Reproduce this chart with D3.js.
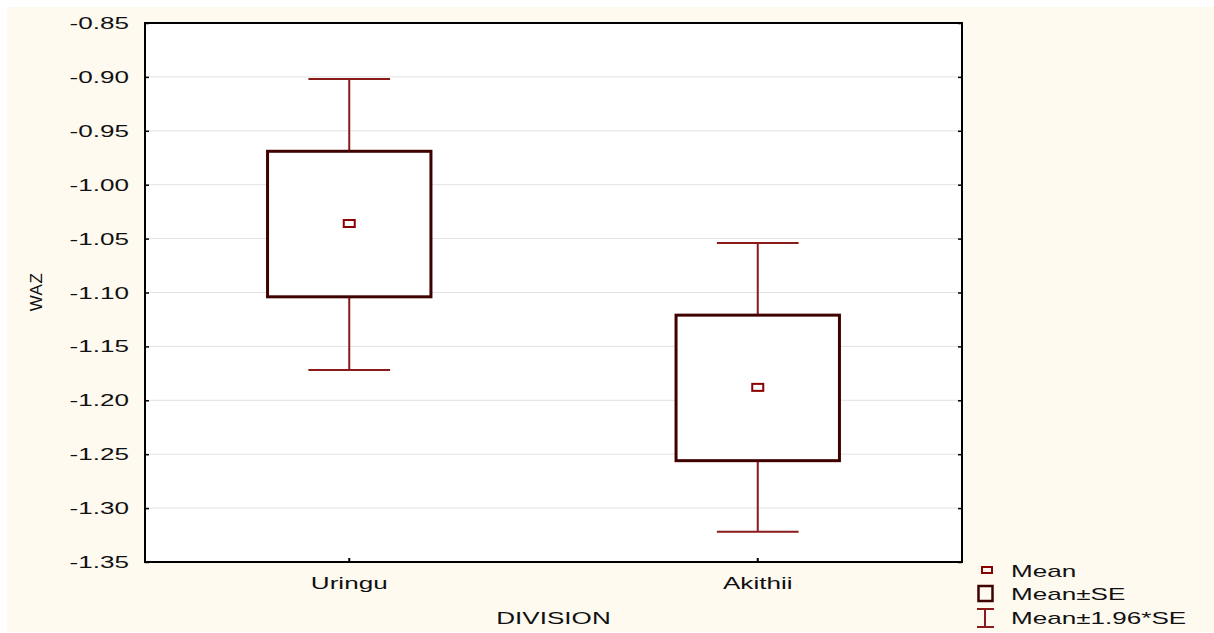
<!DOCTYPE html>
<html>
<head>
<meta charset="utf-8">
<script src="https://cdn.jsdelivr.net/npm/d3@7"></script>
<style>
  html, body { margin: 0; padding: 0; background: #ffffff; }
  svg { display: block; }
  text { font-family: "Liberation Sans", Arial, sans-serif; fill: #111; }
</style>
</head>
<body>
<svg id="chart" width="1214" height="633"></svg>
<script>
// WAZ by division: mean, mean ± SE, mean ± 1.96*SE
const divisions = ["Uringu", "Akithii"];
const means  = [-1.036, -1.188];
const seHigh = [-0.969, -1.121];
const seLow  = [-1.104, -1.256];
const ciHigh = [-0.902, -1.054];
const ciLow  = [-1.172, -1.322];
const yTicks = [-0.85, -0.90, -0.95, -1.00, -1.05, -1.10, -1.15, -1.20, -1.25, -1.30, -1.35];
const legendLabels = ["Mean", "Mean\u00b1SE", "Mean\u00b11.96*SE"];

const svg = d3.select("#chart");
const W = 1214, H = 633;
const plot = { left: 145, right: 962, top: 23, bottom: 562 };
const textScale = 1.63;   // wide horizontal lettering

const boxColor = "#3f0000";
const whiskerColor = "#8b1a1a";
const meanColor = "#8b0000";

// page background
svg.append("rect").attr("x", 7).attr("y", 7).attr("width", W - 7).attr("height", H - 8)
  .attr("fill", "#fefaf0");

const x = d3.scaleBand().domain(divisions).range([plot.left, plot.right]).padding(0);
const y = d3.scaleLinear().domain([-1.35, -0.85]).range([plot.bottom, plot.top]);

// plot area
svg.append("rect")
  .attr("x", plot.left).attr("y", plot.top)
  .attr("width", plot.right - plot.left).attr("height", plot.bottom - plot.top)
  .attr("fill", "#ffffff");

// horizontal grid
svg.append("g").selectAll("line").data(yTicks.slice(1, -1)).join("line")
  .attr("x1", plot.left).attr("x2", plot.right)
  .attr("y1", d => y(d)).attr("y2", d => y(d))
  .attr("stroke", "#e2e2e2").attr("stroke-width", 1);

function wideText(g, xPos, yPos, str, anchor, size) {
  const t = g.append("g").attr("transform", `translate(${xPos},${yPos}) scale(${textScale},1)`);
  t.append("text").attr("text-anchor", anchor).attr("font-size", size).text(str);
  return t;
}

// y axis (left) with inward ticks, mirrored ticks on the right
const yAxis = d3.axisLeft(y).tickValues(yTicks).tickSize(-4).tickFormat("");
const yG = svg.append("g").attr("transform", `translate(${plot.left},0)`).call(yAxis);
yG.select(".domain").remove();
yG.selectAll(".tick line").attr("stroke", "#000").attr("stroke-width", 1.5);

const yAxisR = d3.axisRight(y).tickValues(yTicks).tickSize(-4).tickFormat("");
const yGR = svg.append("g").attr("transform", `translate(${plot.right},0)`).call(yAxisR);
yGR.select(".domain").remove();
yGR.selectAll(".tick line").attr("stroke", "#000").attr("stroke-width", 1.5);

const yLabels = svg.append("g");
yTicks.forEach(v => {
  wideText(yLabels, 129, y(v) + 6, d3.format(".2f")(v).replace("\u2212", "-"), "end", 16);
});

// x axis ticks pointing up
const xAxis = d3.axisBottom(x).tickSize(-4).tickFormat("");
const xG = svg.append("g").attr("transform", `translate(0,${plot.bottom})`).call(xAxis);
xG.select(".domain").remove();
xG.selectAll(".tick line").attr("stroke", "#000").attr("stroke-width", 2);

const xLabels = svg.append("g");
divisions.forEach(d => {
  wideText(xLabels, x(d) + x.bandwidth() / 2, 589, d, "middle", 16);
});

// axis titles
wideText(svg, (plot.left + plot.right) / 2, 624, "DIVISION", "middle", 16);
svg.append("text")
  .attr("transform", `translate(42,292) rotate(-90)`)
  .attr("text-anchor", "middle").attr("font-size", 17).attr("letter-spacing", 0.5)
  .text("WAZ");

// plot frame
svg.append("rect")
  .attr("x", plot.left).attr("y", plot.top)
  .attr("width", plot.right - plot.left).attr("height", plot.bottom - plot.top)
  .attr("fill", "none").attr("stroke", "#000").attr("stroke-width", 2);

// marks
const bw = x.bandwidth();
const boxW = bw * 0.4;
const capW = bw * 0.2;
const marks = svg.append("g");
divisions.forEach((d, i) => {
  const cx = x(d) + bw / 2;
  const g = marks.append("g");
  // whiskers
  g.append("line").attr("x1", cx).attr("x2", cx).attr("y1", y(ciHigh[i])).attr("y2", y(seHigh[i]))
    .attr("stroke", whiskerColor).attr("stroke-width", 2);
  g.append("line").attr("x1", cx).attr("x2", cx).attr("y1", y(seLow[i])).attr("y2", y(ciLow[i]))
    .attr("stroke", whiskerColor).attr("stroke-width", 2);
  [ciHigh[i], ciLow[i]].forEach(v => {
    g.append("line").attr("x1", cx - capW / 2).attr("x2", cx + capW / 2)
      .attr("y1", y(v)).attr("y2", y(v))
      .attr("stroke", whiskerColor).attr("stroke-width", 2);
  });
  // SE box
  g.append("rect")
    .attr("x", cx - boxW / 2).attr("y", y(seHigh[i]))
    .attr("width", boxW).attr("height", y(seLow[i]) - y(seHigh[i]))
    .attr("fill", "#ffffff").attr("stroke", boxColor).attr("stroke-width", 3);
  // mean marker
  g.append("rect")
    .attr("x", cx - 5.5).attr("y", y(means[i]) - 3.5)
    .attr("width", 11).attr("height", 7)
    .attr("fill", "#ffffff").attr("stroke", meanColor).attr("stroke-width", 2);
});

// legend
const lg = svg.append("g");
lg.append("rect").attr("x", 982).attr("y", 567).attr("width", 10).attr("height", 6)
  .attr("fill", "none").attr("stroke", meanColor).attr("stroke-width", 2);
lg.append("rect").attr("x", 978.5).attr("y", 586).attr("width", 14).attr("height", 15)
  .attr("fill", "none").attr("stroke", boxColor).attr("stroke-width", 2.5);
lg.append("line").attr("x1", 985).attr("x2", 985).attr("y1", 609).attr("y2", 627)
  .attr("stroke", whiskerColor).attr("stroke-width", 2);
lg.append("line").attr("x1", 977).attr("x2", 994).attr("y1", 609).attr("y2", 609)
  .attr("stroke", whiskerColor).attr("stroke-width", 2);
lg.append("line").attr("x1", 977).attr("x2", 994).attr("y1", 627).attr("y2", 627)
  .attr("stroke", whiskerColor).attr("stroke-width", 2);
[577, 600, 624].forEach((yy, i) => {
  wideText(lg, 1011, yy, legendLabels[i], "start", 16);
});
</script>
</body>
</html>
